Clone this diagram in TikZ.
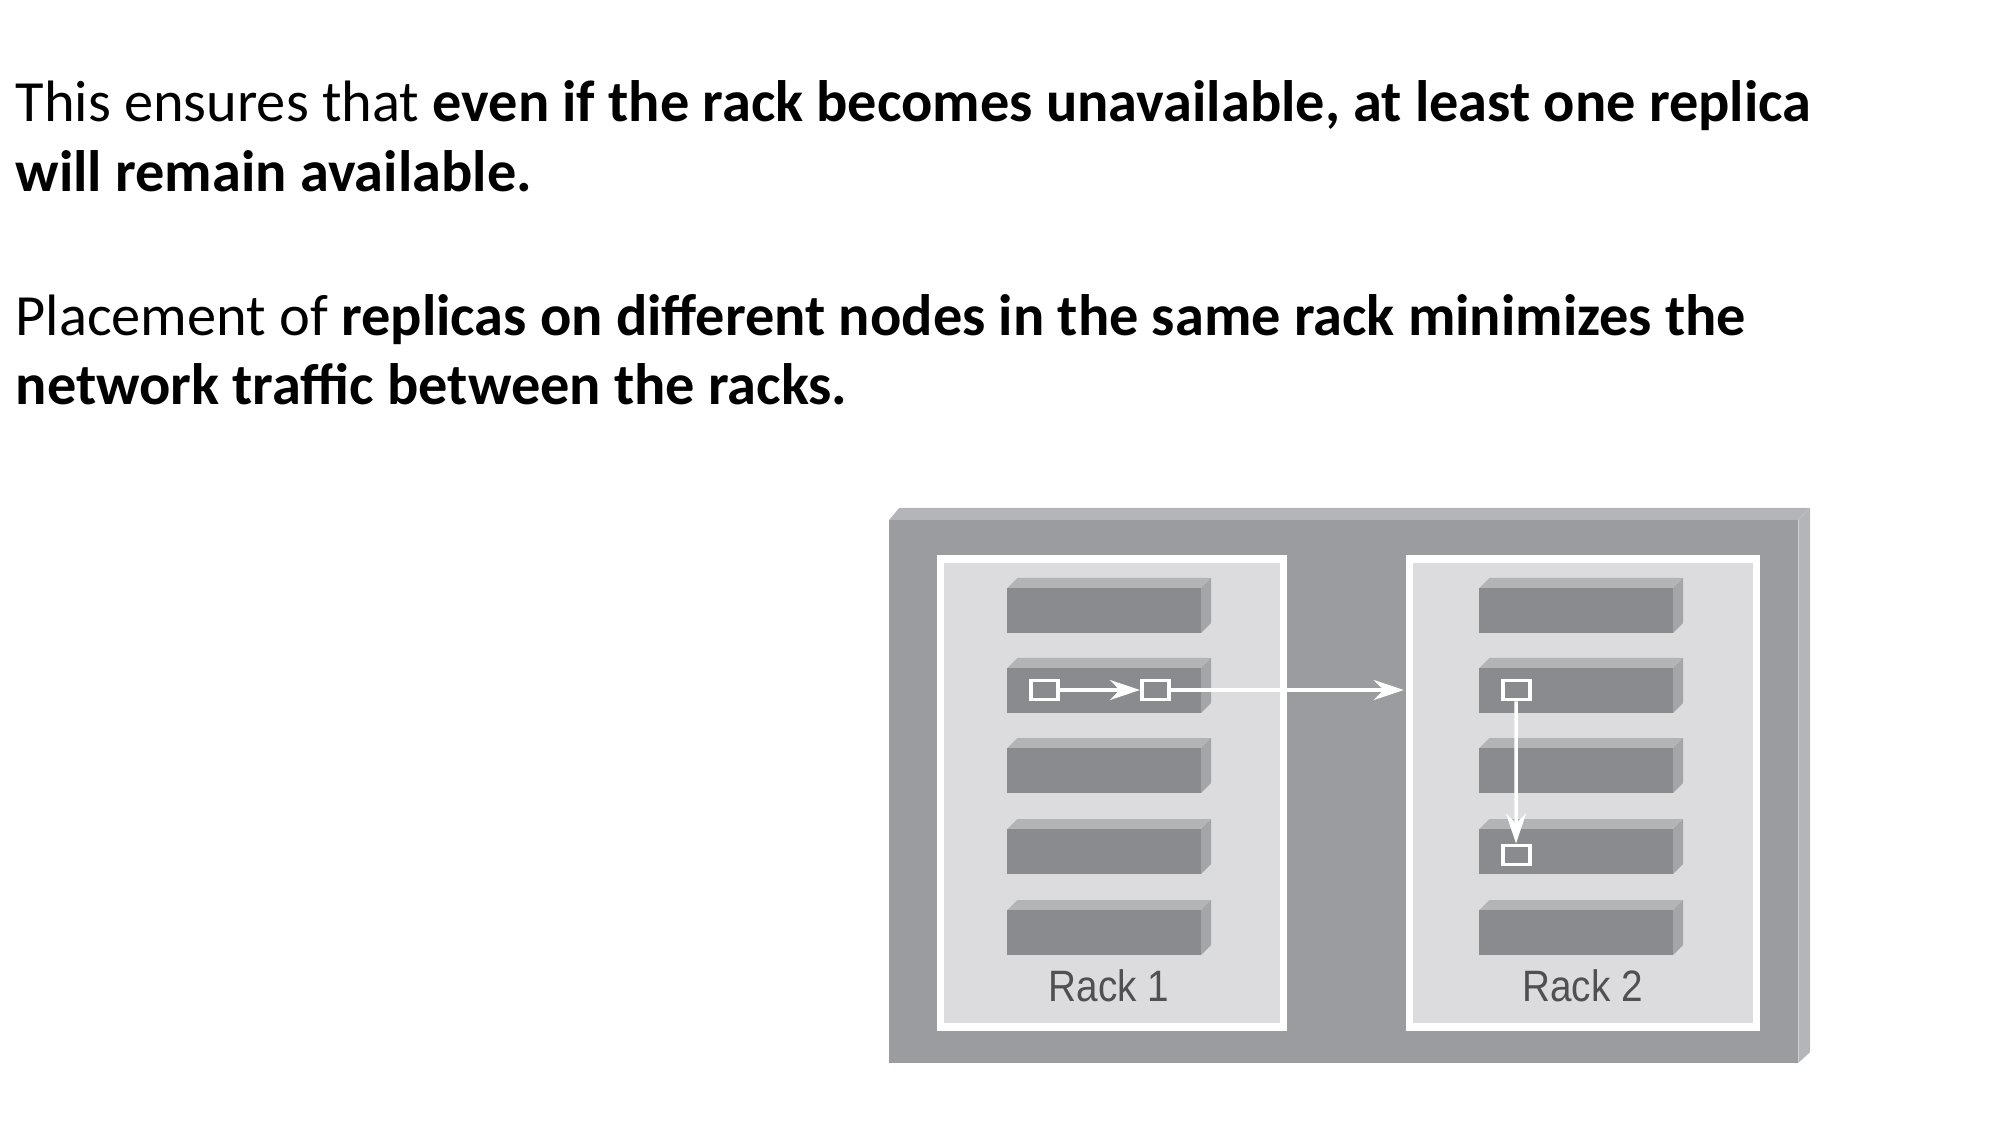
\documentclass[tikz,border=0pt]{standalone}
\usepackage{fontspec}
\setmainfont{Carlito}
\newfontfamily\rackfont[FakeStretch=0.88]{Liberation Sans}
\usetikzlibrary{arrows.meta}
\definecolor{outer}{HTML}{9B9C9F}
\definecolor{outertop}{HTML}{B4B5B8}
\definecolor{rackbg}{HTML}{DCDCDE}
\definecolor{front}{HTML}{8A8B8E}
\definecolor{topf}{HTML}{B3B4B6}
\definecolor{sidef}{HTML}{A4A5A8}
\definecolor{lbl}{HTML}{505052}
\begin{document}
\begin{tikzpicture}[x=0.01cm,y=-0.01cm,
  txt/.style={anchor=base west,inner sep=0,font=\fontsize{16.6}{20}\selectfont},
  rep/.style={draw=white,line width=1.1pt,minimum width=0.27cm,minimum height=0.19cm,inner sep=0},
  arr/.style={draw=white,line width=1pt,-{Stealth[length=0.3cm,width=0.2cm]}},
  racklbl/.style={font=\rackfont\fontsize{12.5}{14}\selectfont,text=lbl}]
\useasboundingbox (0,0) rectangle (2000,1125);
\node[txt] (t1) at (15,122) {This ensures that \textbf{even if the rack becomes unavailable, at least one replica}};
\node[txt] (t2) at (15,192) {\textbf{will remain available.}};
\node[txt] (t3) at (15,336) {Placement of \textbf{replicas on different nodes in the same rack minimizes the}};
\node[txt] (t4) at (15,405) {\textbf{network traffic between the racks.}};
\begin{scope}[xscale=0.9935]
% outer box
\fill[outer] (895,520) rectangle (1810,1063);
\fill[outertop] (895,520) -- (905,508) -- (1822,508) -- (1810,520) -- cycle;
\fill[outertop] (1810,520) -- (1822,508) -- (1822,1052) -- (1810,1063) -- cycle;
\end{scope}
\begin{scope}[xscale=0.9935,xshift=0.05cm]
% racks
\foreach \xa/\xb in {942/1287,1414/1763}{
  \draw[white,line width=2pt,fill=rackbg] (\xa,559) rectangle (\xb,1027);
}
% servers
\foreach \xa/\xb in {1009/1204,1484/1679}{
  \foreach \yy in {578,658,738,819,900}{
    \fill[topf] (\xa,\yy+10) -- (\xa+10,\yy) -- (\xb+10,\yy) -- (\xb,\yy+10) -- cycle;
    \fill[sidef] (\xb,\yy+10) -- (\xb+10,\yy) -- (\xb+10,\yy+45) -- (\xb,\yy+55) -- cycle;
    \fill[front] (\xa,\yy+10) rectangle (\xb,\yy+55);
  }
}
\node[rep] (a) at (1046,690) {};
\node[rep] (b) at (1158,690) {};
\node[rep] (c) at (1521,690) {};
\node[rep] (d) at (1521,855) {};
\coordinate (e) at (1408,690);
\draw[arr] (a) -- (b);
\draw[arr] (b) -- (e);
\draw[arr] (c) -- (d);
\node[racklbl] (r1) at (1111,986) {Rack 1};
\node[racklbl] (r2) at (1588,986) {Rack 2};
\end{scope}
\end{tikzpicture}
\end{document}
